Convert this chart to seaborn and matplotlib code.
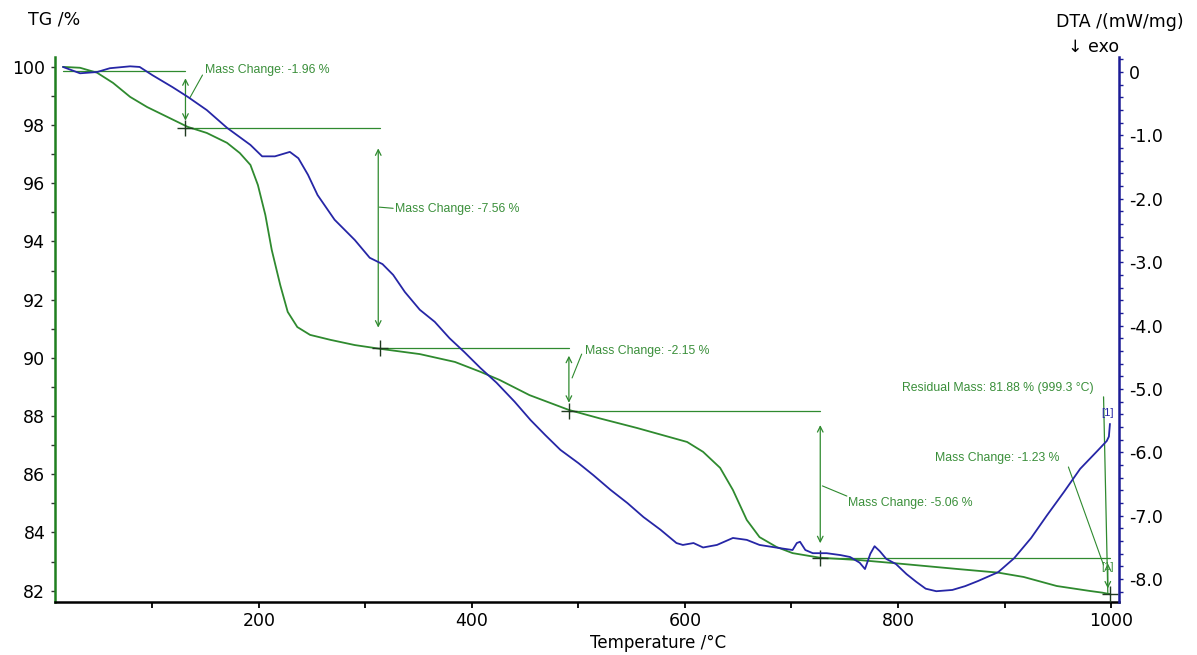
import matplotlib
matplotlib.use("Agg")
import matplotlib.pyplot as plt
import seaborn as sns
import pandas as pd
from matplotlib.ticker import MultipleLocator, FuncFormatter, FixedLocator

# ---------------- data ----------------
tg_temp = [16, 32, 48, 63, 79, 95, 114, 133, 151, 170, 182, 192, 199, 206, 212, 220, 227, 236,
           248, 267, 290, 314, 351, 384, 408, 426, 454, 491, 520, 555, 602, 617, 633, 645, 658,
           670, 686, 701, 727, 764, 795, 857, 894, 918, 949, 980, 992, 999]
tg_mass = [100.0, 99.97, 99.8, 99.45, 98.97, 98.62, 98.28, 97.94, 97.73, 97.39, 97.04, 96.63,
           95.94, 94.91, 93.71, 92.5, 91.58, 91.06, 90.79, 90.62, 90.44, 90.31, 90.13, 89.86,
           89.52, 89.24, 88.72, 88.21, 87.92, 87.59, 87.11, 86.77, 86.22, 85.46, 84.43, 83.84,
           83.5, 83.29, 83.13, 83.05, 82.95, 82.74, 82.62, 82.47, 82.16, 81.99, 81.93, 81.88]

dta_temp = [16, 32, 48, 60, 79, 88, 100, 119, 133, 151, 170, 192, 203, 215, 223, 229, 237, 246,
            255, 271, 290, 304, 316, 326, 337, 351, 365, 379, 393, 408, 423, 440, 455, 469, 483,
            500, 514, 530, 546, 561, 577, 592, 598, 608, 617, 630, 645, 658, 670, 689, 701, 705,
            708, 713, 720, 733, 746, 755, 764, 769, 774, 778, 783, 789, 798, 808, 817, 826, 836,
            851, 863, 875, 894, 909, 925, 940, 956, 971, 987, 996, 998, 999]
dta_signal = [0.08, -0.02, 0.0, 0.06, 0.09, 0.08, -0.05, -0.24, -0.39, -0.6, -0.88, -1.15, -1.33,
              -1.33, -1.29, -1.26, -1.36, -1.62, -1.94, -2.33, -2.65, -2.93, -3.03, -3.2, -3.47,
              -3.75, -3.94, -4.2, -4.42, -4.67, -4.9, -5.2, -5.49, -5.73, -5.96, -6.17, -6.36,
              -6.59, -6.8, -7.02, -7.22, -7.43, -7.46, -7.43, -7.5, -7.46, -7.35, -7.38, -7.46,
              -7.51, -7.54, -7.43, -7.41, -7.54, -7.59, -7.59, -7.62, -7.65, -7.74, -7.84, -7.6,
              -7.48, -7.56, -7.68, -7.76, -7.92, -8.04, -8.15, -8.19, -8.17, -8.11, -8.03, -7.89,
              -7.67, -7.35, -6.99, -6.62, -6.26, -5.98, -5.82, -5.75, -5.55]

step_bounds = [16, 131, 314, 491, 727, 999]          # temperatures of the step markers
step_levels = [99.86, 97.90, 90.34, 88.19, 83.13, 81.88]
mass_changes = [-1.96, -7.56, -2.15, -5.06, -1.23]
residual_mass = 81.88
residual_temp = 999.3

x_ticks = [200, 400, 600, 800, 1000]
tg_ticks = [82, 84, 86, 88, 90, 92, 94, 96, 98, 100]
dta_ticks = [0, -1.0, -2.0, -3.0, -4.0, -5.0, -6.0, -7.0, -8.0]

# ---------------- style ----------------
sns.set_theme(style="white")
plt.rcParams["font.family"] = ["DejaVu Sans"]
plt.rcParams["text.color"] = "black"
plt.rcParams["xtick.color"] = "black"
plt.rcParams["ytick.color"] = "black"

GREEN = "#2f8a2f"
GREEN_TXT = "#3a8f3a"
BLUE = "#2626a6"
SPINE_G = "#1f7f1f"
SPINE_B = "#1c1c96"
W, H = 1197, 655

fig = plt.figure(figsize=(W / 100, H / 100), dpi=100)
L, R, T_, B = 55, 1119, 57, 602
ax = fig.add_axes([L / W, 1 - B / H, (R - L) / W, (B - T_) / H])
ax2 = ax.twinx()

tg_df = pd.DataFrame({"T": tg_temp, "TG": tg_mass})
dta_df = pd.DataFrame({"T": dta_temp, "DTA": dta_signal})
sns.lineplot(data=tg_df, x="T", y="TG", ax=ax, color=GREEN, lw=1.3, sort=False, estimator=None)
sns.lineplot(data=dta_df, x="T", y="DTA", ax=ax2, color=BLUE, lw=1.3, sort=False, estimator=None)

ax.set_xlim(8.5, 1007.5)
ax.set_ylim(81.61, 100.34)
ax2.set_ylim(-8.36, 0.237)

# ---------------- annotations ----------------
ann_lw = 0.9
for i in range(len(mass_changes)):
    ax.plot([step_bounds[i], step_bounds[i + 1]], [step_levels[i], step_levels[i]],
            color=GREEN, lw=ann_lw, zorder=3)
arrow_x = [131, 312, 491, 727, 997]
for i, mc in enumerate(mass_changes):
    top, bot = step_levels[i], step_levels[i + 1]
    inset = 0.08 * (top - bot)
    ax.annotate("", xy=(arrow_x[i], top - inset), xytext=(arrow_x[i], bot + inset),
                arrowprops=dict(arrowstyle="<->", color=GREEN, lw=ann_lw,
                                mutation_scale=10), zorder=3)
ax.plot(step_bounds[1:], step_levels[1:], ls="none", marker="+", ms=11, mew=1.0,
        color="#203a20", zorder=4)

lab_pos = [(149, 99.9), (328, 95.12), (506, 90.24), (753, 85.0), (835, 86.56)]
lead = [((135, 98.93), (147, 99.72)), ((313, 95.18), (326, 95.14)),
        ((494, 89.31), (503, 90.13)), ((729, 85.6), (752, 85.25)),
        ((960, 86.25), (993, 82.88))]
for (tx, ty), mc, (p0, p1) in zip(lab_pos, mass_changes, lead):
    ax.text(tx, ty, f"Mass Change: {mc:.2f} %", color=GREEN_TXT, fontsize=8.8,
            family=["Liberation Sans"], ha="left", va="center", zorder=5)
    ax.plot([p0[0], p1[0]], [p0[1], p1[1]], color=GREEN, lw=0.8, zorder=3)

ax.text(804, 88.97, f"Residual Mass: {residual_mass:.2f} % ({residual_temp:.1f} °C)",
        color=GREEN_TXT, fontsize=8.8, family=["Liberation Sans"], ha="left", va="center")
ax.plot([993, 997], [88.66, residual_mass], color=GREEN, lw=0.9, zorder=3)
ax.text(997, 88.1, "[1]", color=BLUE, fontsize=8, family=["Liberation Sans"],
        ha="center", va="center")
ax.text(997, 82.8, "[1]", color=GREEN_TXT, fontsize=8, family=["Liberation Sans"],
        ha="center", va="center")

# ---------------- axes styling ----------------
for s in ["top", "right"]:
    ax.spines[s].set_visible(False)
for s in ["top", "left", "bottom"]:
    ax2.spines[s].set_visible(False)
ax.spines["left"].set_color(SPINE_G)
ax.spines["left"].set_linewidth(1.8)
ax.spines["bottom"].set_color("black")
ax.spines["bottom"].set_linewidth(1.8)
ax2.spines["right"].set_color(SPINE_B)
ax2.spines["right"].set_linewidth(1.8)

ax.xaxis.set_major_locator(FixedLocator(x_ticks))
ax.xaxis.set_minor_locator(FixedLocator([100, 300, 500, 700, 900]))
ax.yaxis.set_major_locator(FixedLocator(tg_ticks))
ax.yaxis.set_minor_locator(MultipleLocator(1))
ax2.yaxis.set_major_locator(FixedLocator(dta_ticks))
ax2.yaxis.set_minor_locator(MultipleLocator(0.2))
ax2.yaxis.set_major_formatter(FuncFormatter(lambda v, p: "0" if abs(v) < 1e-9 else f"{v:.1f}"))

ax.tick_params(axis="x", which="both", direction="out", bottom=True, length=4, width=1.3,
               color="black", labelcolor="black", labelsize=12.5, pad=3)
ax.tick_params(axis="y", which="both", direction="out", left=True, length=3, width=1,
               color="#333333", labelcolor="black", labelsize=12.5, pad=4)
ax2.tick_params(axis="y", which="both", direction="out", right=True, length=3, width=1,
                color=SPINE_B, labelcolor="black", labelsize=12.5, pad=4)
ax.set_xlabel("")
ax.set_ylabel("")
ax2.set_ylabel("")

fig.text(28 / W, 1 - 20 / H, "TG /%", fontsize=12.5, ha="left", va="center", color="black")
fig.text(1056 / W, 1 - 22 / H, "DTA /(mW/mg)", fontsize=12.5, ha="left", va="center", color="black")
fig.text(1068 / W, 1 - 47 / H, "↓ exo", fontsize=12.5, ha="left", va="center", color="black")
fig.text(658 / W, 1 - 643 / H, "Temperature /°C", fontsize=12, ha="center", va="center",
         color="black")

fig.savefig("out.png", dpi=100)
